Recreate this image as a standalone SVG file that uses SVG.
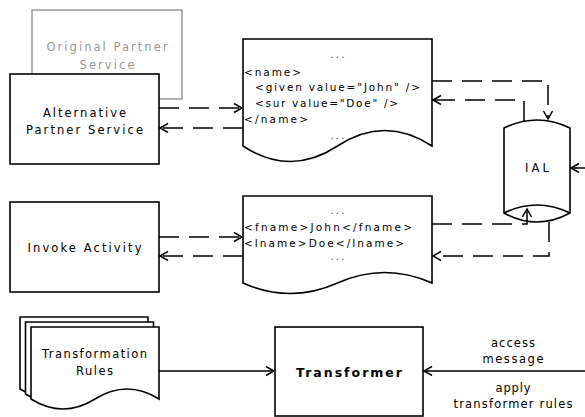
<svg xmlns="http://www.w3.org/2000/svg" width="585" height="417" viewBox="0 0 585 417">
<defs>
<style>
.shape{fill:#fff;stroke:#000;stroke-width:1.6}
.ghost{fill:#fff;stroke:#999;stroke-width:1.5}
.lbl{font-family:"DejaVu Sans",Verdana,sans-serif;font-size:11.5px;fill:#000}
.code{font-family:"DejaVu Sans",Verdana,sans-serif;font-size:10.5px;fill:#000}
.dots{font-family:"DejaVu Sans",Verdana,sans-serif;font-size:10.5px;fill:#555;letter-spacing:2px}
.dash{fill:none;stroke:#000;stroke-width:1.5;stroke-dasharray:20 10}
.solid{fill:none;stroke:#000;stroke-width:1.5}
</style>
<marker id="arr" markerWidth="12" markerHeight="12" refX="9" refY="5" orient="auto" markerUnits="userSpaceOnUse">
<path d="M1,0.5 L9,5 L1,9.5" fill="none" stroke="#000" stroke-width="1.5"/>
</marker>
</defs>
<rect width="585" height="417" fill="#fff"/>

<g id="original-partner-service">
<rect class="ghost" x="32" y="10" width="150" height="89"/>
<text class="lbl" style="fill:#999" x="107" y="51" text-anchor="middle" textLength="121" lengthAdjust="spacing">Original Partner</text>
<text class="lbl" style="fill:#999" x="107" y="69" text-anchor="middle" textLength="55" lengthAdjust="spacing">Service</text>
</g>

<g id="alternative-partner-service">
<rect class="shape" x="10" y="74" width="149" height="90"/>
<text class="lbl" x="84.5" y="117" text-anchor="middle" textLength="83" lengthAdjust="spacing">Alternative</text>
<text class="lbl" x="84.5" y="134" text-anchor="middle" textLength="117" lengthAdjust="spacing">Partner Service</text>
</g>

<g id="doc1">
<path class="shape" d="M243,39 H432 V146 Q384.75,115 337.5,146 Q290.25,177 243,146 Z"/>
<text class="dots" x="338.5" y="58" text-anchor="middle">...</text>
<text class="code" x="244" y="76" textLength="57" lengthAdjust="spacing">&lt;name&gt;</text>
<text class="code" x="255" y="91" textLength="165" lengthAdjust="spacing">&lt;given value="John" /&gt;</text>
<text class="code" x="255" y="107" textLength="143" lengthAdjust="spacing">&lt;sur value="Doe" /&gt;</text>
<text class="code" x="244" y="123" textLength="64" lengthAdjust="spacing">&lt;/name&gt;</text>
<text class="dots" x="338.5" y="139" text-anchor="middle">...</text>
</g>

<g id="invoke-activity">
<rect class="shape" x="10" y="202" width="149" height="90"/>
<text class="lbl" x="84.5" y="252" text-anchor="middle" textLength="114" lengthAdjust="spacing">Invoke Activity</text>
</g>

<g id="doc2">
<path class="shape" d="M243,196 H432 V283 Q384.75,262 337.5,283 Q290.25,304 243,283 Z"/>
<text class="dots" x="338.5" y="214" text-anchor="middle">...</text>
<text class="code" x="244" y="231" textLength="168" lengthAdjust="spacing">&lt;fname&gt;John&lt;/fname&gt;</text>
<text class="code" x="244" y="247" textLength="160" lengthAdjust="spacing">&lt;lname&gt;Doe&lt;/lname&gt;</text>
<text class="dots" x="338.5" y="260" text-anchor="middle">...</text>
</g>

<g id="ial">
<path class="shape" d="M504,128 Q537,112 570,128 V213 Q537,231 504,213 Z"/>
<path class="solid" d="M504,213 Q537,197 570,213"/>
<text class="lbl" x="537" y="172" text-anchor="middle" textLength="24" lengthAdjust="spacing">IAL</text>
</g>

<g id="transformation-rules">
<path class="shape" transform="translate(-11,-10)" d="M31,327 H159 V399 Q127,379 95,399 Q63,419 31,399 Z"/>
<path class="shape" transform="translate(-5.5,-5)" d="M31,327 H159 V399 Q127,379 95,399 Q63,419 31,399 Z"/>
<path class="shape" d="M31,327 H159 V399 Q127,379 95,399 Q63,419 31,399 Z"/>
<text class="lbl" x="94.5" y="358" text-anchor="middle" textLength="105" lengthAdjust="spacing">Transformation</text>
<text class="lbl" x="94.5" y="375" text-anchor="middle" textLength="37" lengthAdjust="spacing">Rules</text>
</g>

<g id="transformer">
<rect class="shape" x="275" y="327" width="148" height="89"/>
<text class="lbl" x="349" y="377" text-anchor="middle" font-weight="bold" style="font-size:12.5px" textLength="106" lengthAdjust="spacing">Transformer</text>
</g>

<g id="connectors">
<path class="dash" d="M159,108 H242" marker-end="url(#arr)"/>
<path class="dash" d="M243,128 H160" marker-end="url(#arr)"/>
<path class="dash" d="M432,81 H548 V119" marker-end="url(#arr)"/>
<path class="dash" d="M524,121 V100 H433" marker-end="url(#arr)"/>
<path class="dash" d="M159,237 H242" marker-end="url(#arr)"/>
<path class="dash" d="M243,256 H160" marker-end="url(#arr)"/>
<path class="dash" d="M432,224 H527 V209" marker-end="url(#arr)"/>
<path class="dash" d="M549,222 V256 H433" marker-end="url(#arr)"/>
<path class="solid" d="M159,371 H274" marker-end="url(#arr)"/>
<path class="solid" d="M585,371 H424" marker-end="url(#arr)"/>
<path class="solid" d="M585,168 H571" marker-end="url(#arr)"/>
<text class="lbl" x="513" y="347" text-anchor="middle" textLength="44" lengthAdjust="spacing">access</text>
<text class="lbl" x="513" y="363" text-anchor="middle" textLength="61" lengthAdjust="spacing">message</text>
<text class="lbl" x="513" y="392" text-anchor="middle" textLength="35" lengthAdjust="spacing">apply</text>
<text class="lbl" x="513" y="408" text-anchor="middle" textLength="119" lengthAdjust="spacing">transformer rules</text>
</g>
</svg>
